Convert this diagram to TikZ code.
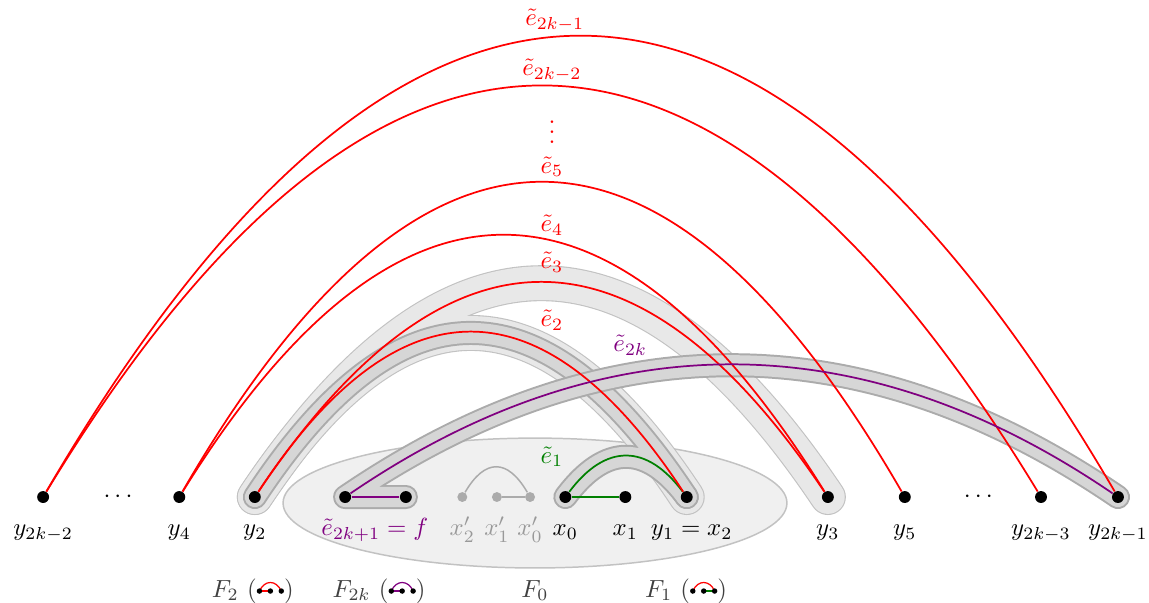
\documentclass[tikz,border=0pt]{standalone}
\usepackage{amsmath}
\usetikzlibrary{positioning}
\usetikzlibrary{backgrounds}
\definecolor{cr}{rgb}{1.00, 0.00, 0.00}
\definecolor{cp}{rgb}{0.50, 0.00, 0.50}
\definecolor{cg}{rgb}{0.00, 0.50, 0.00}
\tikzstyle{vertex}=[circle, fill=black, minimum size=4.8pt, inner sep=0pt]
\tikzstyle{ghost}=[circle, fill=black!33, minimum size=4pt, inner sep=0pt]
\tikzset{
  lbl/.style={anchor=base, inner sep=0pt},
  elbl/.style={inner sep=0pt},
  fam_rim/.style={line cap=round, line join=round, draw=black!24, line width=14.5pt},
  fam_fill/.style={line cap=round, line join=round, draw=black!9, line width=13.6pt},
  path_rim/.style={line cap=round, line join=round, draw=black!33, line width=9.7pt},
  path_fill/.style={line cap=round, line join=round, draw=black!16, line width=8.1pt},
  edge_r/.style={cr, line width=0.7pt},
  edge_p/.style={cp, line width=0.7pt},
  edge_g/.style={cg, line width=0.7pt},
  edge_x/.style={black!33, line width=0.6pt},
}
% arc from #1 to #2, parabola-like
\newcommand{\arcpath}[4]{(#1) .. controls +(#3,#4) and +(-#3,#4) .. (#2)}
% little family sign: arc colour, line colour, line ends
\newcommand{\famicon}[4]{\tikz[baseline=-2.5pt, x=1pt, y=1pt]{
  \draw[#1, line width=0.5pt] (0,0) .. controls (2,4.6) and (6.8,4.6) .. (8.8,0);
  \draw[#2, line width=0.5pt] (#3,0) -- (#4,0);
  \foreach \i in {0,4.4,8.8} \fill[black] (\i,0) circle (1.1pt);}}

\begin{document}
\begin{tikzpicture}
	\useasboundingbox (-7.581,-1.488) rectangle (8.700,7.043);

	\node[vertex] (ya) at (-6.97,0) {};
	\node (dl) at (-5.88,0) {$\cdots$};
	\node[vertex] (y4) at (-5.04,0) {};
	\node[vertex] (y2) at (-3.97,0) {};
	\node[vertex] (fa) at (-2.69,0) {};
	\node[vertex] (fb) at (-1.83,0) {};
	\node[ghost] (xp2) at (-1.03,0) {};
	\node[ghost] (xp1) at (-0.54,0) {};
	\node[ghost] (xp0) at (-0.07,0) {};
	\node[vertex] (x0) at (0.43,0) {};
	\node[vertex] (x1) at (1.28,0) {};
	\node[vertex] (x2) at (2.15,0) {};
	\node[vertex] (y3) at (4.15,0) {};
	\node[vertex] (y5) at (5.24,0) {};
	\node (dr) at (6.31,0) {$\cdots$};
	\node[vertex] (yb) at (7.17,0) {};
	\node[vertex] (yc) at (8.26,0) {};

	\node[lbl] (lya) at (-6.97,-0.55) {$y_{2k-2}$};
	\node[lbl] (ly4) at (-5.04,-0.55) {$y_4$};
	\node[lbl] (ly2) at (-3.97,-0.55) {$y_2$};
	\node[lbl, cp] (lf) at (-2.27,-0.55) {$\tilde{e}_{2k+1} = f$};
	\node[lbl, black!40] (lxp2) at (-1.03,-0.55) {$x'_2$};
	\node[lbl, black!40] (lxp1) at (-0.54,-0.55) {$x'_1$};
	\node[lbl, black!40] (lxp0) at (-0.07,-0.55) {$x'_0$};
	\node[lbl] (lx0) at (0.43,-0.55) {$x_0$};
	\node[lbl] (lx1) at (1.28,-0.55) {$x_1$};
	\node[lbl] (lx2) at (2.22,-0.55) {$y_1 = x_2$};
	\node[lbl] (ly3) at (4.15,-0.55) {$y_3$};
	\node[lbl] (ly5) at (5.24,-0.55) {$y_5$};
	\node[lbl] (lyb) at (7.17,-0.55) {$y_{2k-3}$};
	\node[lbl] (lyc) at (8.26,-0.55) {$y_{2k-1}$};

	\node[lbl, black!75] (F2) at (-4.00,-1.42) {$F_2$ (\famicon{cr}{cr}{0}{4.4})};
	\node[lbl, black!75] (F2k) at (-2.21,-1.42) {$F_{2k}$ (\famicon{cp}{cp}{0}{4.4})};
	\node[lbl, black!75] (F0) at (0,-1.42) {$F_0$};
	\node[lbl, black!75] (F1) at (2.14,-1.42) {$F_1$ (\famicon{cr}{cg}{4.4}{8.8})};

	\node[elbl, cg] (le1) at (0.24,0.57) {$\tilde{e}_1$};
	\node[elbl, cr] (le2) at (0.24,2.51) {$\tilde{e}_2$};
	\node[elbl, cr] (le3) at (0.24,3.33) {$\tilde{e}_3$};
	\node[elbl, cr] (le4) at (0.24,3.85) {$\tilde{e}_4$};
	\node[elbl, cr] (le5) at (0.24,4.68) {$\tilde{e}_5$};
	\node[elbl, cr] (lvd) at (0.24,5.27) {$\vdots$};
	\node[elbl, cr] (lea) at (0.24,6.05) {$\tilde{e}_{2k-2}$};
	\node[elbl, cr] (leb) at (0.28,6.76) {$\tilde{e}_{2k-1}$};
	\node[elbl, cp] (lep) at (1.35,2.15) {$\tilde{e}_{2k}$};

	\begin{pgfonlayer}{background}
	% F_0
	\draw[fill=black!6, draw=black!24, line width=0.6pt] (0,-0.085) ellipse (3.57 and 0.92);

	% F_2
	\draw[fam_rim] \arcpath{y2.center}{y3.center}{2.71}{4.04};
	\draw[fam_rim] \arcpath{y2.center}{x2.center}{2.04}{3.10};
	\draw[fam_fill] \arcpath{y2.center}{y3.center}{2.71}{4.04};
	\draw[fam_fill] \arcpath{y2.center}{x2.center}{2.04}{3.10};

	% F_1
	\draw[path_rim] \arcpath{x0.center}{x2.center}{0.57}{0.76};
	\draw[path_rim] \arcpath{y2.center}{x2.center}{2.04}{3.10};
	\draw[path_fill] \arcpath{x0.center}{x2.center}{0.57}{0.76};
	\draw[path_fill] \arcpath{y2.center}{x2.center}{2.04}{3.10};

	% F_2k
	\draw[path_rim] (fb.center) -- (fa.center) .. controls +(3.65,2.49) and +(-3.65,2.49) .. (yc.center);
	\draw[path_fill] (fb.center) -- (fa.center) .. controls +(3.65,2.49) and +(-3.65,2.49) .. (yc.center);

	% edges
	\draw[edge_x] \arcpath{xp2}{xp0}{0.32}{0.55};
	\draw[edge_x] (xp1) -- (xp0);
	\draw[edge_g] \arcpath{x0}{x2}{0.57}{0.76};
	\draw[edge_g] (x0) -- (x1);
	\draw[edge_r] \arcpath{y2}{x2}{2.04}{3.10};
	\draw[edge_r] \arcpath{y2}{y3}{2.71}{4.04};
	\draw[edge_r] \arcpath{y4}{y3}{3.06}{4.93};
	\draw[edge_r] \arcpath{y4}{y5}{3.43}{5.93};
	\draw[edge_r] \arcpath{ya}{yb}{4.71}{7.75};
	\draw[edge_r] \arcpath{ya}{yc}{5.08}{8.69};
	\draw[edge_p] \arcpath{fa}{yc}{3.65}{2.49};
	\draw[edge_p] (fa) -- (fb);
	\end{pgfonlayer}
\end{tikzpicture}
\end{document}
